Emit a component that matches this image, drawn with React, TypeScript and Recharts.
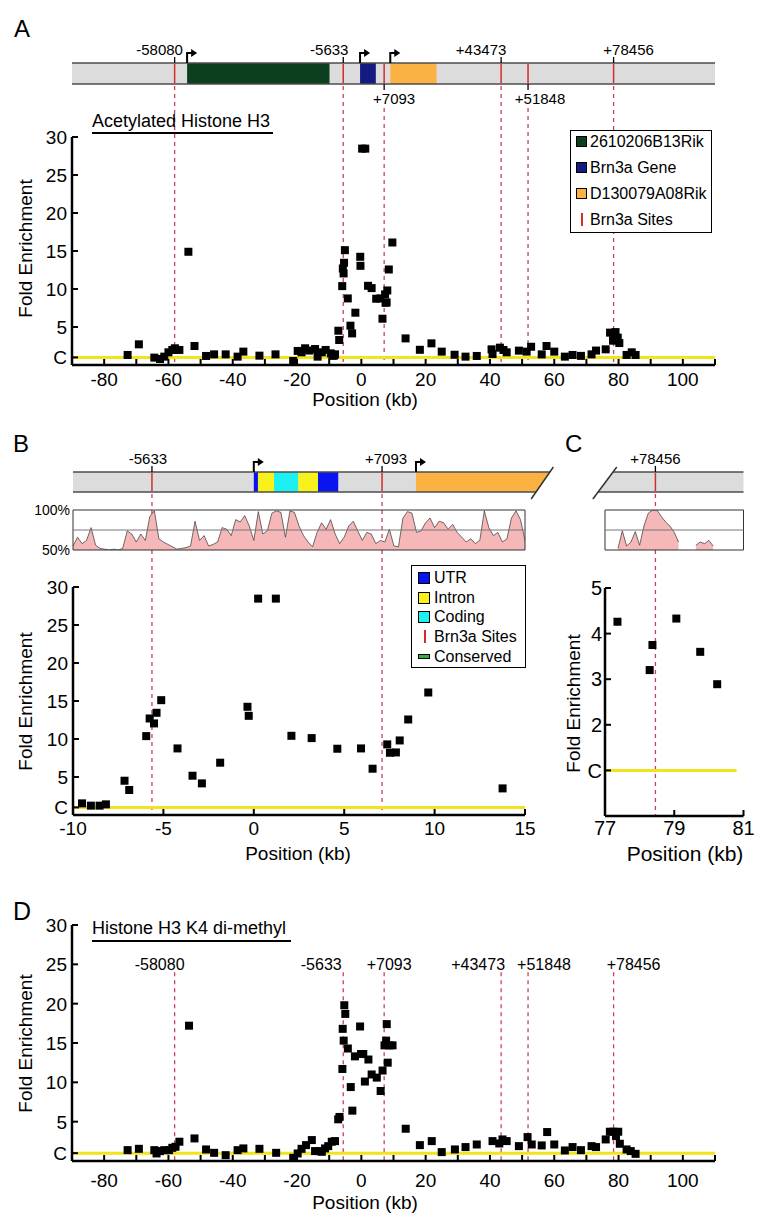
import React from 'react'
import { ScatterChart, Scatter, ComposedChart, AreaChart, Area, XAxis, YAxis, ReferenceLine, ReferenceArea } from 'recharts'

// Brn3a binding sites (kb from TSS)
const siteLabels = ['-58080', '-5633', '+7093', '+43473', '+51848', '+78456']
const sitePos = [-58.08, -5.633, 7.093, 43.473, 51.848, 78.456]

// genes on the locus (kb)
const geneNames = ['2610206B13Rik', 'Brn3a Gene', 'D130079A08Rik']
const geneStart = [-54.2, -0.4, 9.0]
const geneEnd = [-9.9, 4.5, 23.4]

// Brn3a gene structure (kb)
const partKinds = ['UTR', 'Intron', 'Coding', 'Intron', 'UTR']
const partStart = [0, 0.23, 1.12, 2.46, 3.55]
const partEnd = [0.23, 1.12, 2.46, 3.55, 4.67]
const bTss = [0, 8.97]

// acetylated histone H3 ChIP (position kb, fold enrichment)
const acPos = [
  -72.7, -69.2, -64.4, -62.6, -61.3, -60.0, -58.8, -58.0, -56.6, -53.8, -51.9, -48.3, -45.8, -42.2, -38.5,
  -36.7, -31.7, -26.7, -21.2, -19.8, -18.6, -17.5, -16.2, -14.4, -13.6, -12.3, -11.1,
  -9.5, -9.01, -8.53, -8.18, -7.15, -6.89, -5.95, -5.76, -5.52, -5.38, -5.12, -4.22, -3.39, -2.87, -1.86,
  -0.35, -0.28, 0.24, 1.22, 2.08, 3.2, 4.62, 5.93, 6.57, 7.38, 7.53, 7.86, 8.07, 8.54, 9.65, 13.76,
  18.2, 21.8, 25.0, 29.0, 32.4, 35.9, 40.5, 40.8, 43.1, 44.2, 45.2, 49.0, 51.4, 52.8, 56.1, 57.6, 60.0,
  63.3, 65.7, 68.3, 71.6, 73.0, 76.0, 77.36, 78.29, 78.37, 79.06, 79.75, 80.24, 82.5, 84.1, 85.3,
]
const acFold = [
  1.32, 2.72, 0.97, 0.79, 1.1, 1.67, 1.98, 2.2, 1.98, 14.9, 2.5, 1.19, 1.4, 1.4, 1.1,
  1.76, 1.23, 1.4, 0.53, 1.85, 1.67, 2.2, 1.9, 2.1, 1.1, 1.67, 1.98,
  1.53, 1.23, 1.23, 1.4, 4.51, 3.29, 10.38, 12.7, 12.05, 13.45, 15.11, 8.76, 5.17, 4.16, 6.88,
  14.24, 13.05, 28.47, 28.47, 10.42, 10.12, 8.72, 8.76, 6.09, 9.29, 8.19, 8.23, 9.81, 12.57, 16.12, 3.5,
  2.0, 2.85, 1.76, 1.35, 1.1, 1.19, 2.06, 1.45, 2.28, 1.98, 1.67, 1.89, 1.76, 2.4, 1.4, 2.5, 1.76,
  1.1, 1.32, 1.2, 1.4, 1.9, 2.06, 4.26, 3.2, 3.75, 4.33, 3.6, 2.89, 1.32, 1.67, 1.32,
]

// histone H3 K4 di-methyl ChIP
const k4Pos = [
  -72.7, -69.2, -64.4, -63.7, -62.6, -61.3, -59.8, -58.8, -57.8, -56.6, -53.6, -51.9, -48.3, -45.8, -42.2,
  -38.5, -36.7, -31.7, -26.5, -21.2, -19.8, -18.6, -17.2, -15.4, -14.4, -13.2, -12.3, -11.3, -10.3, -9.2,
  -8.2, -7.2, -6.8, -5.9, -5.8, -5.5, -5.3, -5.0, -4.2, -3.3, -2.8, -2.0, -0.4, -0.1, 0.6, 1.1, 2.2, 3.2,
  4.8, 6.0, 6.6, 7.2, 7.7, 7.9, 8.2, 8.7, 9.7, 13.8, 18.2, 21.9, 25.0, 29.1, 32.4, 35.9, 40.8, 42.9, 43.9,
  45.2, 49.0, 51.7, 53.0, 56.1, 57.8, 60.0, 63.3, 65.7, 68.3, 71.6, 73.0, 76.0, 77.3, 78.4, 79.9, 79.2,
  80.4, 82.5, 83.8, 85.3,
]
const k4Fold = [
  1.38, 1.55, 1.38, 0.96, 1.26, 1.38, 1.38, 1.68, 1.81, 2.45, 17.2, 2.87, 1.47, 1.04, 0.74,
  1.38, 1.6, 1.55, 1.04, 0.4, 0.96, 1.55, 2.02, 2.66, 1.26, 1.26, 1.17, 1.6, 1.89, 2.45,
  2.53, 5.3, 5.6, 11.7, 16.8, 15.3, 19.8, 18.7, 14.3, 9.4, 6.4, 13.3, 17.1, 13.6, 13.6, 10.1, 12.9, 11.0,
  10.6, 8.9, 11.5, 14.7, 15.3, 17.4, 12.5, 14.7, 14.7, 4.1, 2.02, 2.53, 1.13, 1.47, 1.77, 2.1, 2.53, 2.23, 2.74,
  2.53, 1.89, 3.04, 2.1, 1.98, 3.68, 2.1, 1.34, 1.77, 1.38, 1.89, 1.77, 2.74, 3.72, 3.72, 3.72, 3.17,
  2.19, 1.47, 1.26, 0.91,
]

// conservation (%), sampled every 0.25 kb from -10 kb
const consBStart = -10
const consBStep = 0.25
const consB = [
  55, 66, 58, 62, 78, 56, 52, 51, 50, 51, 50, 52, 74, 70, 60, 70, 62, 92, 99, 64,
  60, 57, 54, 51, 52, 53, 55, 86, 62, 68, 55, 57, 60, 78, 76, 68, 88, 85, 93, 80,
  62, 98, 70, 74, 96, 99, 97, 66, 99, 97, 80, 68, 60, 54, 72, 84, 76, 88, 70, 58,
  66, 80, 86, 74, 62, 72, 70, 58, 62, 60, 76, 55, 54, 90, 98, 96, 72, 74, 84, 90,
  78, 86, 84, 76, 82, 72, 66, 60, 64, 58, 62, 99, 78, 68, 72, 60, 64, 90, 99, 88, 62,
]
// conservation (%), sampled every 0.125 kb from 77 kb
const consCStart = 77
const consCStep = 0.125
const consC = [
  null, null, null, 52, 74, 55, 60, 73, 56, 80, 96, 100, 100, 92, 85, 80, 72,
  60, null, null, null, 56, 60, 58, 62, 55, null, null, 62, null, null, null, null,
]

const ticksWide = [-90, -80, -70, -60, -50, -40, -30, -20, -10, 0, 10, 20, 30, 40, 50, 60, 70, 80, 90, 100, 110]
const ticksB = [-10, -5, 0, 5, 10, 15]
const ticksC = [77, 79, 81]
const foldTicks = [1, 5, 10, 15, 20, 25, 30]
const foldTicksC = [1, 2, 3, 4, 5]

const FONT = '"Liberation Sans", Arial, Helvetica, sans-serif'
const YELLOW = '#f2e31b'
const DASH = '#c9405a'
const SITE_RED = '#d52b2b'
const BAR_GREY = '#dcdcdc'
const EDGE = '#4d4d4d'
const PINK = '#f5b7b7'
const geneColors = ['#0c3f1e', '#131b80', '#fbb243']
const partColors: Record<string, string> = { UTR: '#0a14f0', Intron: '#f7f21b', Coding: '#1df0f0' }
const axisStyle = { stroke: '#000', strokeWidth: 2.5 }

const nudgeA: Record<string, number> = { '-58080': -15, '-5633': -14, '+43473': -20, '+78456': 15, '+7093': 10, '+51848': 12 }
const nudgeB: Record<string, number> = { '-5633': -4, '+7093': 4 }
const nudgeD: Record<string, number> = { '-58080': -15, '-5633': -22, '+7093': 5, '+43473': -23, '+51848': 16, '+78456': 20 }
const belowA = ['+7093', '+51848']

const acData = acPos.map((x, i) => ({ x, y: acFold[i] }))
const k4Data = k4Pos.map((x, i) => ({ x, y: k4Fold[i] }))
const consBData = consB.map((c, i) => ({ x: consBStart + i * consBStep, c }))
const consCData = consC.map((c, i) => ({ x: consCStart + i * consCStep, c }))

// plot edges (px)
const A_L = 72
const A_R = 715
const B_L = 73
const B_R = 525
const C_L = 45 // inside the panel C box that starts at x=560
const C_R = 183.5

function Square(props: any) {
  const { cx, cy } = props
  if (cx == null || cy == null) return null
  return <rect x={cx - 4} y={cy - 4} width={8} height={8} fill="#000" />
}

function XTick(props: any) {
  const { x, y, payload, fs, dy, show } = props
  const v = payload.value
  const txt = show ? show(v) : String(v)
  return (
    <g>
      <line x1={x} y1={y} x2={x} y2={y - 6} stroke="#000" strokeWidth={2} />
      {txt !== '' && (
        <text x={x} y={y + dy} textAnchor="middle" fontSize={fs} fontFamily={FONT} fill="#000">{txt}</text>
      )}
    </g>
  )
}

function YTick(props: any) {
  const { x, y, payload, fs, gap } = props
  const v = payload.value
  return (
    <g>
      <line x1={x} y1={y} x2={x + 6} y2={y} stroke="#000" strokeWidth={2} />
      <text x={x - gap} y={y} dy="0.36em" textAnchor="end" fontSize={fs} fontFamily={FONT} fill="#000">{v === 1 ? 'C' : v}</text>
    </g>
  )
}

function Tss(props: any) {
  const { cx, cy } = props
  return (
    <g>
      <polyline points={`${cx},${cy} ${cx},${cy - 10} ${cx + 5},${cy - 10}`} fill="none" stroke="#000" strokeWidth={2} />
      <polygon points={`${cx + 4},${cy - 14} ${cx + 10},${cy - 10} ${cx + 4},${cy - 6}`} fill="#000" />
    </g>
  )
}

function SiteMark(props: any) {
  const { cx, cy, payload, nudge, fs } = props
  const down = payload.down
  const dx = nudge[payload.label] || 0
  return (
    <g>
      <line x1={cx} y1={cy} x2={cx} y2={down ? cy + 6 : cy - 6} stroke="#000" strokeWidth={1.3} />
      <text x={cx + dx} y={down ? cy + 20 : cy - 8} textAnchor="middle" fontSize={fs} fontFamily={FONT} fill="#000">
        {payload.label}
      </text>
    </g>
  )
}

function SiteText(props: any) {
  const { cx, cy, payload } = props
  const dx = nudgeD[payload.label] || 0
  return (
    <text x={cx + dx} y={cy - 2} textAnchor="middle" fontSize={16} fontFamily={FONT} fill="#000">{payload.label}</text>
  )
}

function Txt({ x, y, fs, children, anchor = 'middle', rot = false }: any) {
  const w = 400
  const left = anchor === 'start' ? x : anchor === 'end' ? x - w : x - w / 2
  const align = anchor === 'start' ? 'left' : anchor === 'end' ? 'right' : 'center'
  return (
    <div
      style={{
        position: 'absolute', left, top: y - fs * 0.5, width: w, height: fs, lineHeight: `${fs}px`, fontSize: fs,
        textAlign: align as any, fontFamily: FONT, whiteSpace: 'nowrap', color: '#000',
        transform: rot ? 'rotate(-90deg)' : undefined, transformOrigin: `${x - left}px ${fs * 0.5}px`,
      }}
    >
      {children}
    </div>
  )
}

function Rule({ x, y, w }: any) {
  return <div style={{ position: 'absolute', left: x, top: y - 1, width: w, height: 2, background: '#000' }} />
}

// ---------- Panel A ----------
function MapA() {
  const H = 336
  const top = 33
  const bot = 54
  const marks = sitePos.map((x, i) => {
    const down = belowA.includes(siteLabels[i])
    return { x, y: down ? bot : top, label: siteLabels[i], down }
  })
  const tss = geneStart.map((x) => ({ x, y: top }))
  return (
    <ComposedChart width={762} height={H} margin={{ top: 0, right: 762 - A_R, bottom: 0, left: A_L }}>
      <XAxis type="number" dataKey="x" domain={[-90, 110]} hide allowDataOverflow />
      <YAxis type="number" dataKey="y" domain={[0, H]} reversed hide allowDataOverflow />
      {sitePos.map((s, i) => (
        <ReferenceLine key={'d' + i} segment={[{ x: s, y: belowA.includes(siteLabels[i]) ? 78 : 56 }, { x: s, y: H - 1 }]}
          stroke={DASH} strokeDasharray="4 4" strokeWidth={1.3} />
      ))}
      <ReferenceArea x1={-90} x2={110} y1={top} y2={bot} fill={BAR_GREY} fillOpacity={1} stroke="none" />
      {geneStart.map((s, i) => (
        <ReferenceArea key={'g' + i} x1={s} x2={geneEnd[i]} y1={top} y2={bot} fill={geneColors[i]} fillOpacity={1} stroke="none" />
      ))}
      <ReferenceLine segment={[{ x: -90, y: top }, { x: 110, y: top }]} stroke={EDGE} strokeWidth={1.5} />
      <ReferenceLine segment={[{ x: -90, y: bot }, { x: 110, y: bot }]} stroke={EDGE} strokeWidth={1.5} />
      {sitePos.map((s, i) => (
        <ReferenceLine key={'r' + i} segment={[{ x: s, y: top + 1 }, { x: s, y: bot - 1 }]} stroke={SITE_RED} strokeWidth={1.5} />
      ))}
      <Scatter data={tss} shape={Tss} isAnimationActive={false} />
      <Scatter data={marks} shape={(p: any) => <SiteMark {...p} nudge={nudgeA} fs={15} />} isAnimationActive={false} />
    </ComposedChart>
  )
}

const wideLabel = (v: number) => (v % 20 === 0 && v >= -80 && v <= 100 ? String(v) : '')

function PlotA() {
  return (
    <ScatterChart width={762} height={298} margin={{ top: 20, right: 762 - A_R, bottom: 0, left: 0 }}>
      <XAxis type="number" dataKey="x" domain={[-90, 110]} ticks={ticksWide} interval={0} allowDataOverflow height={50}
        tickSize={0} tickMargin={0} axisLine={axisStyle} tickLine={false} tick={<XTick fs={19} dy={21} show={wideLabel} />} />
      <YAxis type="number" dataKey="y" domain={[0, 30]} ticks={foldTicks} interval={0} allowDataOverflow width={A_L}
        tickSize={0} tickMargin={0} axisLine={axisStyle} tickLine={false} tick={<YTick fs={19} gap={5} />} />
      <ReferenceLine y={1} stroke={YELLOW} strokeWidth={3} />
      <Scatter data={acData} shape={Square} isAnimationActive={false} />
    </ScatterChart>
  )
}

function LegendA() {
  const rows = [...geneNames.map((n, i) => ({ n, c: geneColors[i] })), { n: 'Brn3a Sites', c: '' }]
  return (
    <div style={{ position: 'absolute', left: 570, top: 130, width: 142, height: 103, boxSizing: 'border-box', border: '1.5px solid #000', background: '#fff' }}>
      {rows.map((r, i) => {
        const cy = 11 + i * 26
        return (
          <React.Fragment key={r.n}>
            {r.c ? (
              <div style={{ position: 'absolute', left: 5, top: cy - 6, width: 11, height: 11, boxSizing: 'border-box', border: '1px solid #000', background: r.c }} />
            ) : (
              <div style={{ position: 'absolute', left: 10, top: cy - 7, width: 1.5, height: 13, background: SITE_RED }} />
            )}
            <div style={{ position: 'absolute', left: 19, top: cy - 8, fontSize: 16, lineHeight: '16px', fontFamily: FONT, whiteSpace: 'nowrap' }}>{r.n}</div>
          </React.Fragment>
        )
      })}
    </div>
  )
}

// ---------- Panel B ----------
const bScale = (B_R - B_L) / 25
const bMapMax = 16.6

function OrangeCut(props: any) {
  const { x, y, width, height } = props
  return <polygon points={`${x},${y} ${x + width},${y} ${x + width - 14},${y + height} ${x},${y + height}`} fill={geneColors[2]} />
}

function MapB() {
  const H = 376
  const top = 32
  const bot = 52
  const bSites = [1, 2]
  const marks = bSites.map((i) => ({ x: sitePos[i], y: top, label: siteLabels[i], down: false }))
  const tss = bTss.map((x) => ({ x, y: top }))
  const right = 560 - B_L - (bMapMax + 10) * bScale
  return (
    <ComposedChart width={560} height={H} margin={{ top: 0, right, bottom: 0, left: B_L }}>
      <XAxis type="number" dataKey="x" domain={[-10, bMapMax]} hide allowDataOverflow />
      <YAxis type="number" dataKey="y" domain={[0, H]} reversed hide allowDataOverflow />
      {bSites.map((i) => (
        <ReferenceLine key={'d' + i} segment={[{ x: sitePos[i], y: 54 }, { x: sitePos[i], y: H - 1 }]}
          stroke={DASH} strokeDasharray="4 4" strokeWidth={1.3} />
      ))}
      <ReferenceArea x1={-10} x2={bTss[1]} y1={top} y2={bot} fill={BAR_GREY} fillOpacity={1} stroke="none" />
      {partStart.map((s, i) => (
        <ReferenceArea key={'p' + i} x1={s} x2={partEnd[i]} y1={top} y2={bot} fill={partColors[partKinds[i]]} fillOpacity={1} stroke="none" />
      ))}
      <ReferenceArea x1={bTss[1]} x2={16.38} y1={top} y2={bot} shape={OrangeCut} />
      <ReferenceLine segment={[{ x: -10, y: top }, { x: 16.38, y: top }]} stroke={EDGE} strokeWidth={1.5} />
      <ReferenceLine segment={[{ x: -10, y: bot }, { x: 15.61, y: bot }]} stroke={EDGE} strokeWidth={1.5} />
      <ReferenceLine segment={[{ x: 15.34, y: 59 }, { x: 16.57, y: 27 }]} stroke="#333" strokeWidth={1.5} />
      {bSites.map((i) => (
        <ReferenceLine key={'r' + i} segment={[{ x: sitePos[i], y: top + 1 }, { x: sitePos[i], y: bot - 1 }]} stroke={SITE_RED} strokeWidth={1.5} />
      ))}
      <Scatter data={tss} shape={Tss} isAnimationActive={false} />
      <Scatter data={marks} shape={(p: any) => <SiteMark {...p} nudge={nudgeB} fs={15} />} isAnimationActive={false} />
    </ComposedChart>
  )
}

function TrackB() {
  return (
    <AreaChart width={560} height={60} data={consBData} margin={{ top: 10, right: 560 - B_R, bottom: 10, left: 0 }}>
      <XAxis type="number" dataKey="x" domain={[-10, 15]} hide allowDataOverflow />
      <YAxis type="number" domain={[50, 100]} ticks={[50, 100]} interval={0} width={B_L} tickSize={0} tickMargin={3}
        axisLine={false} tickLine={false} tick={{ fontSize: 14, fill: '#000', fontFamily: FONT }} tickFormatter={(v: number) => `${v}%`} allowDataOverflow />
      <Area type="linear" dataKey="c" baseValue={50} fill={PINK} fillOpacity={1} stroke="#333" strokeWidth={0.7} isAnimationActive={false} />
      <ReferenceLine y={75} stroke="#777" strokeWidth={1} />
      <ReferenceArea x1={-10} x2={15} y1={50} y2={100} fill="none" fillOpacity={0} stroke="#333" strokeWidth={1} />
    </AreaChart>
  )
}

const bData = acData.filter((d) => d.x >= -10 && d.x <= 15)

function PlotB() {
  return (
    <ScatterChart width={560} height={300} margin={{ top: 22, right: 560 - B_R, bottom: 0, left: 0 }}>
      <XAxis type="number" dataKey="x" domain={[-10, 15]} ticks={ticksB} interval={0} allowDataOverflow height={50}
        tickSize={0} tickMargin={0} axisLine={axisStyle} tickLine={false} tick={<XTick fs={19} dy={20} />} />
      <YAxis type="number" dataKey="y" domain={[0, 30]} ticks={foldTicks} interval={0} allowDataOverflow width={B_L}
        tickSize={0} tickMargin={0} axisLine={axisStyle} tickLine={false} tick={<YTick fs={19} gap={5} />} />
      <ReferenceLine y={1} stroke={YELLOW} strokeWidth={3} />
      <Scatter data={bData} shape={Square} isAnimationActive={false} />
    </ScatterChart>
  )
}

function LegendB() {
  const rows = ['UTR', 'Intron', 'Coding', 'Brn3a Sites', 'Conserved']
  return (
    <div style={{ position: 'absolute', left: 411, top: 565, width: 115, height: 103, boxSizing: 'border-box', border: '1.5px solid #000', background: '#fff' }}>
      {rows.map((n, i) => {
        const cy = 12 + i * 19.7
        let sw: React.ReactNode
        if (partColors[n]) {
          sw = <div style={{ position: 'absolute', left: 6, top: cy - 6, width: 12, height: 12, boxSizing: 'border-box', border: '1px solid #000', background: partColors[n] }} />
        } else if (n === 'Brn3a Sites') {
          sw = <div style={{ position: 'absolute', left: 12, top: cy - 7, width: 1.5, height: 13, background: SITE_RED }} />
        } else {
          sw = <div style={{ position: 'absolute', left: 6, top: cy - 2.5, width: 12, height: 5, boxSizing: 'border-box', border: '1px solid #000', background: '#3aa83a' }} />
        }
        return (
          <React.Fragment key={n}>
            {sw}
            <div style={{ position: 'absolute', left: 22, top: cy - 8, fontSize: 16, lineHeight: '16px', fontFamily: FONT, whiteSpace: 'nowrap' }}>{n}</div>
          </React.Fragment>
        )
      })}
    </div>
  )
}

// ---------- Panel C ----------
const cScale = (C_R - C_L) / 4
const cMapMin = 76.5

function BarCut(props: any) {
  const { x, y, width, height } = props
  return <polygon points={`${x + 15},${y} ${x + width},${y} ${x + width},${y + height} ${x},${y + height}`} fill={BAR_GREY} />
}

function MapC() {
  const H = 377
  const top = 32
  const bot = 52
  const marks = [{ x: sitePos[5], y: top, label: siteLabels[5], down: false }]
  const left = C_L - (77 - cMapMin) * cScale
  return (
    <ComposedChart width={202} height={H} margin={{ top: 0, right: 202 - C_R, bottom: 0, left }}>
      <XAxis type="number" dataKey="x" domain={[cMapMin, 81]} hide allowDataOverflow />
      <YAxis type="number" dataKey="y" domain={[0, H]} reversed hide allowDataOverflow />
      <ReferenceLine segment={[{ x: sitePos[5], y: 54 }, { x: sitePos[5], y: H - 1 }]} stroke={DASH} strokeDasharray="4 4" strokeWidth={1.3} />
      <ReferenceArea x1={76.8} x2={81} y1={top} y2={bot} shape={BarCut} />
      <ReferenceLine segment={[{ x: 77.23, y: top }, { x: 81, y: top }]} stroke={EDGE} strokeWidth={1.5} />
      <ReferenceLine segment={[{ x: 76.8, y: bot }, { x: 81, y: bot }]} stroke={EDGE} strokeWidth={1.5} />
      <ReferenceLine segment={[{ x: 76.65, y: 59 }, { x: 77.34, y: 27 }]} stroke="#333" strokeWidth={1.5} />
      <ReferenceLine segment={[{ x: sitePos[5], y: top + 1 }, { x: sitePos[5], y: bot - 1 }]} stroke={SITE_RED} strokeWidth={1.5} />
      <Scatter data={marks} shape={(p: any) => <SiteMark {...p} nudge={{}} fs={15} />} isAnimationActive={false} />
    </ComposedChart>
  )
}

function TrackC() {
  return (
    <AreaChart width={202} height={60} data={consCData} margin={{ top: 10, right: 202 - C_R, bottom: 10, left: C_L }}>
      <XAxis type="number" dataKey="x" domain={[77, 81]} hide allowDataOverflow />
      <YAxis type="number" domain={[50, 100]} hide allowDataOverflow />
      <Area type="linear" dataKey="c" baseValue={50} fill={PINK} fillOpacity={1} stroke="#333" strokeWidth={0.7} isAnimationActive={false} />
      <ReferenceLine y={75} stroke="#777" strokeWidth={1} />
      <ReferenceArea x1={77} x2={81} y1={50} y2={100} fill="none" fillOpacity={0} stroke="#333" strokeWidth={1} />
    </AreaChart>
  )
}

const cData = acData.filter((d) => d.x >= 77 && d.x <= 81)

function PlotC() {
  return (
    <ScatterChart width={202} height={301} margin={{ top: 23, right: 202 - C_R, bottom: 0, left: 0 }}>
      <XAxis type="number" dataKey="x" domain={[77, 81]} ticks={ticksC} interval={0} allowDataOverflow height={50}
        tickSize={0} tickMargin={0} axisLine={axisStyle} tickLine={false} tick={<XTick fs={20} dy={19} />} />
      <YAxis type="number" dataKey="y" domain={[0, 5]} ticks={foldTicksC} interval={0} allowDataOverflow width={C_L}
        tickSize={0} tickMargin={0} axisLine={axisStyle} tickLine={false} tick={<YTick fs={20} gap={3} />} />
      <ReferenceLine segment={[{ x: 77, y: 1 }, { x: 80.8, y: 1 }]} stroke={YELLOW} strokeWidth={3} />
      <Scatter data={cData} shape={Square} isAnimationActive={false} />
    </ScatterChart>
  )
}

// ---------- Panel D ----------
function PlotD() {
  const labels = sitePos.map((x, i) => ({ x, y: 24, label: siteLabels[i] }))
  return (
    <ScatterChart width={762} height={313} margin={{ top: 25, right: 762 - A_R, bottom: 0, left: 0 }}>
      <XAxis type="number" dataKey="x" domain={[-90, 110]} ticks={ticksWide} interval={0} allowDataOverflow height={52}
        tickSize={0} tickMargin={0} axisLine={axisStyle} tickLine={false} tick={<XTick fs={19} dy={26} show={wideLabel} />} />
      <YAxis type="number" dataKey="y" domain={[0, 30]} ticks={foldTicks} interval={0} allowDataOverflow width={A_L}
        tickSize={0} tickMargin={0} axisLine={axisStyle} tickLine={false} tick={<YTick fs={19} gap={5} />} />
      {sitePos.map((s, i) => (
        <ReferenceLine key={'d' + i} segment={[{ x: s, y: 24 }, { x: s, y: 0 }]} stroke={DASH} strokeDasharray="4 4" strokeWidth={1.3} />
      ))}
      <ReferenceLine y={1} stroke={YELLOW} strokeWidth={3} />
      <Scatter data={labels} shape={SiteText} isAnimationActive={false} />
      <Scatter data={k4Data} shape={Square} isAnimationActive={false} />
    </ScatterChart>
  )
}

export default function App() {
  return (
    <div style={{ position: 'absolute', left: 0, top: 0, width: 762, height: 1218, background: '#fff', overflow: 'hidden', fontFamily: FONT }}>
      {/* A */}
      <div style={{ position: 'absolute', left: 0, top: 30 }}><MapA /></div>
      <div style={{ position: 'absolute', left: 0, top: 117 }}><PlotA /></div>
      <Txt x={14} y={28.5} fs={24} anchor="start">A</Txt>
      <Txt x={92} y={121} fs={18} anchor="start">Acetylated Histone H3</Txt>
      <Rule x={92} y={133} w={181} />
      <Txt x={365} y={399} fs={19}>Position (kb)</Txt>
      <Txt x={25} y={248} fs={19} rot>Fold Enrichment</Txt>
      <LegendA />

      {/* B */}
      <div style={{ position: 'absolute', left: 0, top: 440 }}><MapB /></div>
      <div style={{ position: 'absolute', left: 0, top: 500 }}><TrackB /></div>
      <div style={{ position: 'absolute', left: 0, top: 565 }}><PlotB /></div>
      <Txt x={13} y={444} fs={24} anchor="start">B</Txt>
      <Txt x={298} y={853} fs={19}>Position (kb)</Txt>
      <Txt x={25} y={701} fs={19} rot>Fold Enrichment</Txt>
      <LegendB />

      {/* C */}
      <div style={{ position: 'absolute', left: 560, top: 440 }}><MapC /></div>
      <div style={{ position: 'absolute', left: 560, top: 500 }}><TrackC /></div>
      <div style={{ position: 'absolute', left: 560, top: 565 }}><PlotC /></div>
      <Txt x={565} y={444} fs={24} anchor="start">C</Txt>
      <Txt x={685} y={853} fs={21}>Position (kb)</Txt>
      <Txt x={573} y={703} fs={19} rot>Fold Enrichment</Txt>

      {/* D */}
      <div style={{ position: 'absolute', left: 0, top: 900 }}><PlotD /></div>
      <Txt x={13} y={911} fs={25} anchor="start">D</Txt>
      <Txt x={92} y={928} fs={18} anchor="start">Histone H3 K4 di-methyl</Txt>
      <Rule x={92} y={941} w={199} />
      <Txt x={365} y={1202} fs={19}>Position (kb)</Txt>
      <Txt x={25} y={1043} fs={19} rot>Fold Enrichment</Txt>
    </div>
  )
}
